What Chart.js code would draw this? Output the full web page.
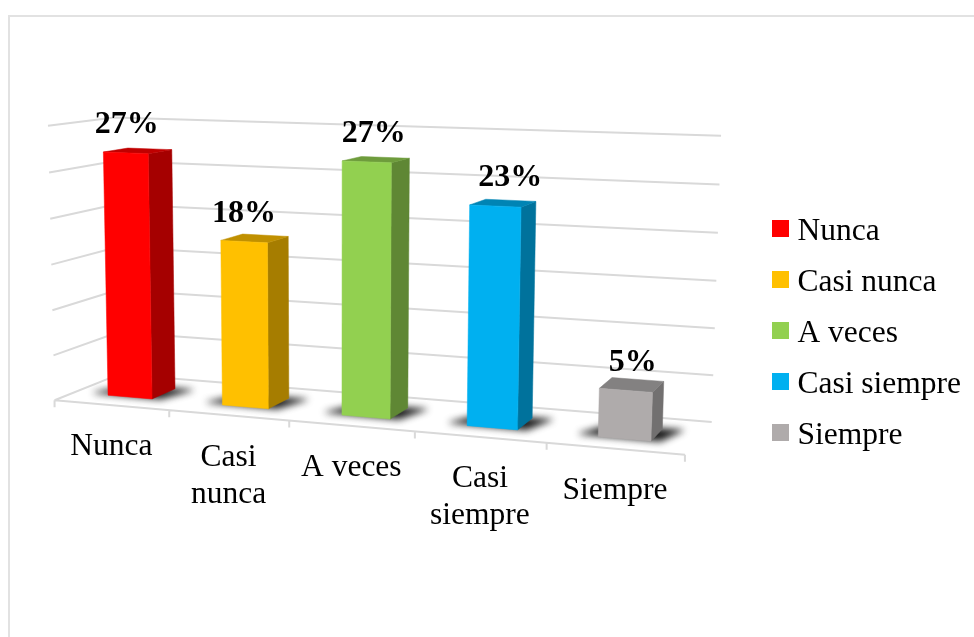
<!DOCTYPE html>
<html><head><meta charset="utf-8">
<style>html,body{margin:0;padding:0;background:#fff}canvas{display:block}</style>
<script src="https://cdn.jsdelivr.net/npm/chart.js@4"></script>
</head><body>
<div style="width:974px;height:637px"><canvas id="c" width="974" height="637"></canvas></div>
<script>
const categories = ['Nunca', 'Casi nunca', 'A veces', 'Casi siempre', 'Siempre'];
const axisLines = [['Nunca'], ['Casi', 'nunca'], ['A veces'], ['Casi', 'siempre'], ['Siempre']];
const values = [27, 18, 27, 23, 5];
const valueLabels = ['27%', '18%', '27%', '23%', '5%'];
const frontColors = ['#FF0000', '#FFC000', '#92D050', '#00B0F0', '#AFABAB'];
const sideColors = ['#A50000', '#A67D00', '#5F8734', '#00729C', '#727070'];
const topColors = ['#C00000', '#C09000', '#6E9C3C', '#0084B4', '#838181'];
const labelNudge = [1, 0, 7, 15, 7];
const FONT = '"Liberation Serif", "Times New Roman", serif';

// Camera calibration: axis-box reference (u, v, depth) -> page position.
const frame = [
  [0,0,0,56,400],[.2,0,0,170,411],[.4,0,0,289,420],[.6,0,0,415,431],[.8,0,0,547,443],[1,0,0,685,454],
  [0,1/6,0,54,355],[0,2/6,0,52,310],[0,3/6,0,51,265],[0,4/6,0,50,219],[0,5/6,0,48,173],[0,1,0,47,126],
  [0,0,1,117,374],[0,1,1,117,117],
  [1,0,1,712,422],[1,1/6,1,713,376],[1,2/6,1,715,329],[1,3/6,1,716,281],[1,4/6,1,718,233],[1,5/6,1,719,184],[1,1,1,721,135]
];
function solveCamera(pts) {
  const n = 11, A = Array.from({length: n}, () => new Array(n + 1).fill(0));
  const add = (r, t) => { for (let i = 0; i < n; i++) { for (let j = 0; j < n; j++) A[i][j] += r[i] * r[j]; A[i][n] += r[i] * t; } };
  for (const [a, b, c, X0, Y0] of pts) {
    const X = X0 / 1000, Y = Y0 / 1000;
    add([a, b, c, 1, 0, 0, 0, 0, -X * a, -X * b, -X * c], X);
    add([0, 0, 0, 0, a, b, c, 1, -Y * a, -Y * b, -Y * c], Y);
  }
  for (let i = 0; i < n; i++) {
    let m = i;
    for (let k = i + 1; k < n; k++) if (Math.abs(A[k][i]) > Math.abs(A[m][i])) m = k;
    [A[i], A[m]] = [A[m], A[i]];
    for (let k = 0; k < n; k++) if (k !== i) {
      const f = A[k][i] / A[i][i];
      for (let j = i; j <= n; j++) A[k][j] -= f * A[i][j];
    }
  }
  return A.map((r, i) => r[n] / r[i]);
}
const P = solveCamera(frame);
const DEPTH_FRONT = 0.29, DEPTH_BACK = 0.67;

function projector(chart) {
  const a = chart.chartArea, w = a.right - a.left, h = a.bottom - a.top;
  return (px, py, d) => {
    const u = (px - a.left) / w, v = (a.bottom - py) / h;
    const q = P[8] * u + P[9] * v + P[10] * d + 1;
    return [1000 * (P[0] * u + P[1] * v + P[2] * d + P[3]) / q,
            1000 * (P[4] * u + P[5] * v + P[6] * d + P[7]) / q];
  };
}
function poly(ctx, pts, fill) {
  ctx.beginPath();
  pts.forEach((p, i) => i ? ctx.lineTo(p[0], p[1]) : ctx.moveTo(p[0], p[1]));
  ctx.closePath();
  ctx.fillStyle = fill;
  ctx.fill();
  ctx.strokeStyle = fill;
  ctx.lineWidth = 0.5;
  ctx.stroke();
}
function line(ctx, a, b) { ctx.moveTo(a[0], a[1]); ctx.lineTo(b[0], b[1]); }

const perspective = {
  id: 'perspective',
  beforeDraw(chart) {
    const ctx = chart.ctx;
    ctx.save();
    ctx.fillStyle = '#fff';
    ctx.fillRect(0, 0, chart.width, chart.height);
    ctx.fillStyle = '#E2E2E2';
    ctx.fillRect(8, 15, 2, chart.height - 15);
    ctx.fillRect(8, 15, chart.width - 8, 2);
    ctx.restore();
  },
  beforeDatasetsDraw(chart) {
    const ctx = chart.ctx, pr = projector(chart), a = chart.chartArea;
    const xs = chart.scales.x, ys = chart.scales.y;
    const bars = chart.getDatasetMeta(0).data;
    ctx.save();
    // grid on walls and floor
    ctx.strokeStyle = '#D9D9D9';
    ctx.lineWidth = 2;
    ctx.lineCap = 'butt';
    ctx.beginPath();
    ys.ticks.forEach(t => {
      const py = ys.getPixelForValue(t.value);
      line(ctx, pr(a.left, py, 0), pr(a.left, py, 1));
      line(ctx, pr(a.left, py, 1), pr(a.right, py, 1));
    });
    const py0 = ys.getPixelForValue(0);
    line(ctx, pr(a.left, py0, 0), pr(a.right, py0, 0));
    const step = (a.right - a.left) / categories.length;
    categories.forEach((c, i) => {
      const edge = xs.getPixelForValue(i) - step / 2;
      const p = pr(edge, py0, 0);
      line(ctx, p, [p[0], p[1] + 7]);
    });
    const p = pr(a.right, py0, 0);
    line(ctx, p, [p[0], p[1] + 7]);
    ctx.stroke();

    // soft contact shadows on the floor
    bars.forEach(b => {
      const hw = b.width / 2, g = b.width * 0.4;
      ctx.save();
      ctx.filter = 'blur(3.5px)';
      poly(ctx, [pr(b.x - hw - g, py0, DEPTH_FRONT + 0.04), pr(b.x + hw + g * .4, py0, DEPTH_FRONT + 0.02),
                 pr(b.x + hw + g, py0, DEPTH_BACK + 0.01), pr(b.x - hw, py0, DEPTH_BACK + 0.01)], 'rgba(15,15,15,.95)');
      ctx.restore();
    });

    // bars
    bars.forEach((b, i) => {
      const hw = b.width / 2, L = b.x - hw, R = b.x + hw, T = b.y, B = b.base;
      poly(ctx, [pr(R, B, DEPTH_FRONT), pr(R, B, DEPTH_BACK), pr(R, T, DEPTH_BACK), pr(R, T, DEPTH_FRONT)], sideColors[i]);
      poly(ctx, [pr(L, T, DEPTH_FRONT), pr(R, T, DEPTH_FRONT), pr(R, T, DEPTH_BACK), pr(L, T, DEPTH_BACK)], topColors[i]);
      poly(ctx, [pr(L, B, DEPTH_FRONT), pr(R, B, DEPTH_FRONT), pr(R, T, DEPTH_FRONT), pr(L, T, DEPTH_FRONT)], frontColors[i]);
    });

    // value labels and category labels
    ctx.fillStyle = '#000';
    ctx.textAlign = 'center';
    ctx.textBaseline = 'middle';
    ctx.font = 'bold 32px ' + FONT;
    bars.forEach((b, i) => {
      const p = pr(b.x, b.y, DEPTH_FRONT);
      ctx.fillText(valueLabels[i], p[0] + labelNudge[i], p[1] - 28);
    });
    ctx.font = '31.5px ' + FONT;
    axisLines.forEach((lines, i) => {
      const p = pr(xs.getPixelForValue(i), py0, 0);
      lines.forEach((t, k) => ctx.fillText(t, p[0], p[1] + 42 + k * 37));
    });
    ctx.restore();
    return false;
  }
};

function swatch(color) {
  const s = document.createElement('canvas');
  s.width = 17; s.height = 23;
  const g = s.getContext('2d');
  g.fillStyle = color;
  g.fillRect(0, 0, 17, 17);
  return s;
}
new Chart(document.getElementById('c'), {
  type: 'bar',
  data: { labels: categories, datasets: [{ data: values, backgroundColor: frontColors, barPercentage: 0.39, categoryPercentage: 1 }] },
  options: {
    responsive: false,
    animation: false,
    layout: { padding: { top: 30, right: 3, bottom: 0, left: 0 } },
    scales: {
      x: { display: false },
      y: { display: false, min: 0, max: 30, ticks: { stepSize: 5 } }
    },
    plugins: {
      tooltip: { enabled: false },
      legend: {
        position: 'right',
        labels: {
          font: { family: FONT, size: 31.5 },
          color: '#000',
          padding: 19.5,
          boxHeight: 17,
          usePointStyle: true,
          pointStyleWidth: 2,
          generateLabels: () => categories.map((c, i) => ({
            text: c, fillStyle: frontColors[i], strokeStyle: frontColors[i], lineWidth: 0,
            pointStyle: swatch(frontColors[i]), hidden: false, index: i
          }))
        }
      }
    }
  },
  plugins: [perspective]
});
</script>
</body></html>
